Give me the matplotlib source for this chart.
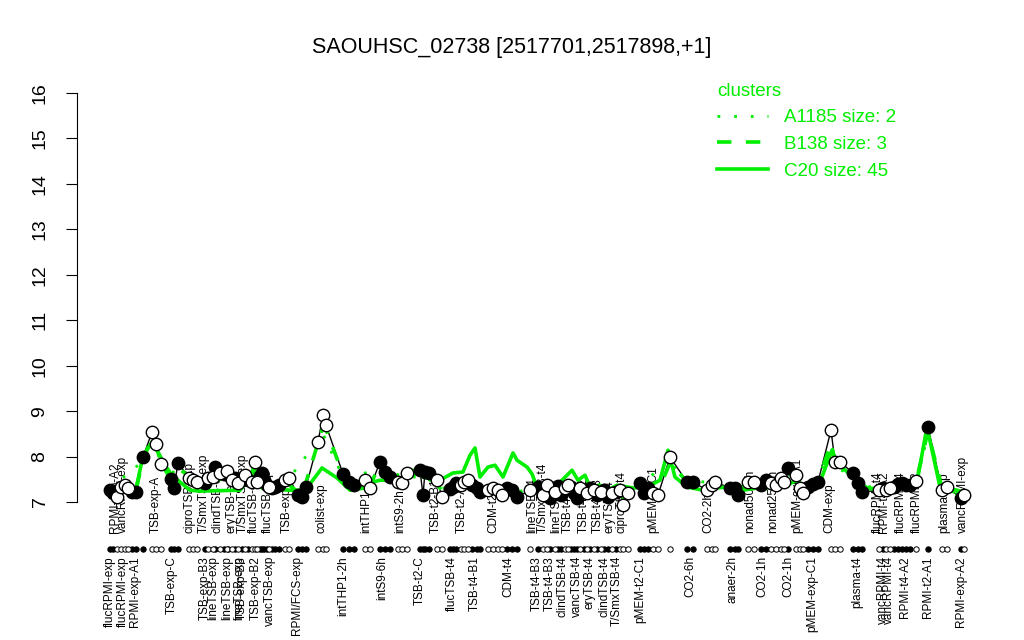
import numpy as np
import matplotlib
matplotlib.use('Agg')
import matplotlib.pyplot as plt
from matplotlib.lines import Line2D

plt.rcParams['font.family'] = ['Liberation Sans', 'DejaVu Sans']

title = 'SAOUHSC_02738 [2517701,2517898,+1]'
green = '#00ee00'

# sample positions (left to right), expression values, filled (1) / open (0)
pos = [2.0, 2.6, 3.4, 4.2, 5.0, 5.6, 6.4, 7.2, 8.6,
       10.4, 11.2, 12.2,
       14.2, 14.8, 15.6,
       17.8, 18.6, 19.4,
       21.0, 21.6, 22.6, 23.0, 24.0, 24.8, 25.4, 25.6, 26.4, 27.0, 27.6, 28.4,
       29.0, 29.6, 30.4, 31.0, 31.4, 32.0, 32.4, 32.8, 33.4, 33.8, 34.4, 35.0, 35.8,
       37.0, 37.8,
       39.6, 40.4, 41.2,
       43.6, 44.6, 45.2,
       48.6, 49.8, 50.8,
       53.0, 54.0,
       56.0, 57.0, 58.0,
       59.6, 60.4, 61.4,
       64.0, 64.6, 65.0, 65.8,
       67.4, 68.4,
       70.0, 70.6, 71.2,
       72.2, 72.8, 73.6,
       74.4, 75.4, 76.0,
       77.6, 78.6, 79.6, 80.4,
       81.4, 82.4, 83.4,
       86.0,
       87.6, 88.6, 89.4, 90.0, 91.0, 91.6, 92.2, 93.0, 93.6, 94.2, 94.8, 95.4,
       96.0, 96.8, 97.4, 98.0, 98.8, 99.4, 100.2, 100.8, 101.6, 102.4, 103.2,
       104.0, 104.6, 105.6,
       108.0, 108.8, 109.6, 110.6, 111.6,
       114.0,
       117.4, 118.6,
       121.4, 122.4, 123.0,
       126.0, 127.0, 127.6,
       129.6, 130.8,
       132.2, 133.2,
       134.2, 135.2, 136.2, 136.8,
       137.6,
       139.2, 140.0, 140.6,
       141.6, 142.6, 143.6,
       146.2, 147.0, 148.0,
       150.6, 151.6, 152.4,
       155.8, 156.6, 157.2, 158.0, 158.8, 159.6, 160.4, 161.2, 162.0, 163.2,
       165.6,
       168.4, 169.4,
       172.2, 172.8]

expr = [7.26, 7.20, 7.11, 7.33, 7.37, 7.31, 7.22, 7.22, 7.99,
        8.54, 8.28, 7.84,
        7.51, 7.31, 7.86,
        7.53, 7.48, 7.44,
        7.42, 7.53, 7.55, 7.77, 7.64, 7.62, 7.68, 7.59, 7.48, 7.53, 7.42, 7.48,
        7.59, 7.48, 7.44, 7.88, 7.44, 7.57, 7.64, 7.48, 7.37, 7.33, 7.31, 7.33, 7.37,
        7.48, 7.53,
        7.15, 7.11, 7.33,
        8.32, 8.91, 8.69,
        7.62, 7.44, 7.37,
        7.48, 7.31,
        7.88, 7.66, 7.55,
        7.44, 7.42, 7.64,
        7.70, 7.15, 7.66, 7.64,
        7.48, 7.11,
        7.29, 7.33, 7.42,
        7.37, 7.44, 7.48,
        7.37, 7.31, 7.22,
        7.26, 7.31, 7.26, 7.15,
        7.31, 7.26, 7.11,
        7.26,
        7.33, 7.15, 7.37, 7.09, 7.22, 7.35, 7.15, 7.31, 7.37, 7.33, 7.20, 7.09,
        7.31, 7.26, 7.20, 7.31, 7.26, 7.15, 7.22, 7.26, 7.11, 7.20, 7.22,
        7.26, 6.93, 7.20,
        7.42, 7.20, 7.31, 7.20, 7.15,
        7.99,
        7.44, 7.44,
        7.26, 7.37, 7.44,
        7.31, 7.31, 7.15,
        7.44, 7.44,
        7.37, 7.48,
        7.42, 7.37, 7.53, 7.44,
        7.75,
        7.59, 7.31, 7.20,
        7.33, 7.40, 7.44,
        8.58, 7.88, 7.88,
        7.64, 7.42, 7.22,
        7.26, 7.31, 7.26, 7.31, 7.33, 7.40, 7.42, 7.37, 7.37, 7.46,
        8.65,
        7.26, 7.33,
        7.09, 7.15]

filled = [1, 1, 0, 0, 0, 0, 1, 1, 1,
          0, 0, 0,
          1, 1, 1,
          0, 0, 0,
          1, 0, 0, 1, 0, 1, 0, 1, 0, 1, 0, 1,
          0, 1, 0, 0, 0, 1, 1, 1, 1, 0, 1, 1, 1,
          0, 0,
          1, 1, 1,
          0, 0, 0,
          1, 1, 1,
          0, 0,
          1, 1, 1,
          0, 0, 0,
          1, 1, 1, 1,
          0, 0,
          1, 1, 1,
          0, 0, 0,
          1, 1, 1,
          0, 0, 0, 0,
          1, 1, 1,
          0,
          1, 0, 0, 1, 0, 1, 1, 0, 0, 1, 1, 1,
          0, 1, 0, 1, 0, 1, 0, 1, 1, 0, 1,
          0, 0, 0,
          1, 1, 1, 0, 0,
          0,
          1, 1,
          0, 0, 0,
          1, 1, 1,
          0, 0,
          1, 1,
          0, 0, 0, 0,
          1,
          0, 0, 0,
          1, 1, 1,
          0, 0, 0,
          1, 1, 1,
          0, 1, 0, 0, 1, 1, 1, 1, 1, 0,
          1,
          0, 0,
          1, 0]

# cluster profiles
c20_pos = [2.0, 7.2, 8.6, 10.4, 11.6, 13.0, 14.4, 16.0, 18.0, 20.0, 28.0, 30.0,
           30.8, 31.6, 32.4, 38.0, 40.0, 41.4, 44.4, 47.4, 50.0, 53.0, 54.6,
           56.0, 60.0, 62.6, 64.6, 68.0, 70.6, 72.6, 74.0, 75.0, 76.0, 77.6,
           79.0, 80.6, 82.6, 83.4, 85.4, 86.4, 87.6, 90.0, 91.4, 94.4, 95.6,
           97.0, 98.0, 100.0, 101.6, 103.4, 106.6, 109.4, 112.0, 113.6, 115.0,
           117.4, 120.6, 123.4, 125.4, 128.6, 131.4, 134.0, 136.6, 139.4,
           140.6, 142.0, 144.0, 146.4, 147.4, 150.6, 153.4, 156.0, 160.0,
           163.4, 165.4, 168.0, 171.4, 173.0]
c20_val = [7.26, 7.29, 8.01, 8.32, 8.10, 7.81, 7.59, 7.44, 7.26, 7.24, 7.26, 7.53,
           7.79, 7.42, 7.31, 7.26, 7.26, 7.31, 7.75, 7.53, 7.26, 7.31, 7.44,
           7.48, 7.48, 7.70, 7.55, 7.48, 7.64, 7.66, 8.03, 8.19, 7.55, 7.77,
           7.81, 7.55, 8.08, 7.92, 7.77, 7.62, 7.26, 7.31, 7.37, 7.70, 7.48,
           7.59, 7.33, 7.37, 7.26, 7.37, 7.31, 7.33, 7.48, 8.14, 7.55,
           7.33, 7.26, 7.31, 7.33, 7.26, 7.31, 7.31, 7.33, 7.48,
           7.31, 7.26, 7.44, 8.14, 7.86, 7.55, 7.31, 7.26, 7.37,
           7.44, 8.65, 7.33, 7.26, 7.20]

b138_pos = [2.0, 7.2, 8.6, 10.4, 11.2, 12.2, 14.2, 15.6, 18.6, 23.0, 27.0, 31.0,
            33.4, 37.0, 40.4, 43.6, 44.6, 45.2, 48.6, 50.8, 54.0, 56.0, 58.0,
            61.4, 64.0, 65.8, 68.4, 71.2, 73.6, 76.0, 79.6, 83.4, 86.0, 90.0,
            95.0, 100.0, 104.6, 108.0, 111.6, 114.0, 117.4, 121.4, 123.0, 127.0,
            130.8, 133.2, 137.6, 140.6, 143.6, 146.2, 147.0, 148.0, 150.6, 152.4,
            156.6, 160.4, 163.2, 165.6, 168.4, 172.2]
b138_val = [7.25, 7.25, 7.95, 8.40, 8.25, 7.85, 7.50, 7.75, 7.50, 7.65, 7.55, 7.70,
            7.40, 7.45, 7.15, 8.30, 8.65, 8.60, 7.60, 7.40, 7.35, 7.85, 7.60,
            7.55, 7.65, 7.60, 7.25, 7.40, 7.45, 7.30, 7.30, 7.20, 7.30, 7.20,
            7.25, 7.25, 7.10, 7.40, 7.25, 7.85, 7.45, 7.30, 7.42, 7.30,
            7.40, 7.45, 7.65, 7.30, 7.45, 8.30, 7.90, 7.85, 7.60, 7.30,
            7.30, 7.40, 7.45, 8.55, 7.30, 7.15]

a1185_pos = [2.0, 8.6, 10.4, 12.2, 15.6, 18.6, 31.0, 37.0, 44.6, 48.6, 56.0, 61.4,
             65.0, 68.4, 73.6, 80.4, 86.0, 95.0, 104.6, 108.0, 114.0, 115.5, 117.4,
             123.0, 127.0, 133.2, 137.6, 141.6, 146.2, 147.0, 150.6, 152.4, 158.0,
             163.2, 165.6, 168.4, 172.8]
a1185_val = [7.30, 7.90, 8.30, 7.80, 7.60, 7.40, 7.60, 7.40, 8.50, 7.55, 7.70, 7.55,
             7.55, 7.30, 7.40, 7.30, 7.25, 7.30, 7.15, 7.35, 7.95, 7.65, 7.50,
             7.40, 7.30, 7.40, 7.55, 7.35, 8.00, 7.75, 7.60, 7.35, 7.30,
             7.40, 8.50, 7.30, 7.15]

top_pos = [3.0, 4.6, 11.2, 18.0, 20.8, 23.6, 26.2, 28.6, 30.8, 33.6, 37.4, 44.4,
           53.2, 60.0, 67.2, 72.4, 78.6, 86.4, 88.6, 91.2, 93.6, 96.8, 99.6,
           102.0, 104.4, 110.6, 121.6, 130.0, 134.6, 139.4, 145.8, 155.6, 156.8,
           160.2, 163.4, 168.8, 172.6]
top_lab = ['RPMI-exp-A2', 'vancRPMI-exp', 'TSB-exp-A', 'ciproTSB-exp',
           'T/SmxTSB-exp', 'clindTSB-exp', 'eryTSB-exp', 'T/SmxTSB-exp',
           'flucTSB-exp', 'flucTSB-exp', 'TSB-exp', 'colist-exp', 'intTHP1-1h',
           'intS9-2h', 'TSB-t2-B1', 'TSB-t2-A1', 'CDM-t2', 'lineTSB-t4',
           'T/SmxTSB-t4', 'lineTSB-t4', 'TSB-t4-B2', 'TSB-t4-C2', 'TSB-t4-B3',
           'eryTSB-t4', 'ciproTSB-t4', 'pMEM-t2-C1', 'CO2-2h', 'nonad50-1h',
           'nonad25-1h', 'pMEM-exp-A1', 'CDM-exp', 'flucRPMI-t4', 'RPMI-t4-A2',
           'flucRPMI-t4', 'flucRPMI-t2', 'plasma-exp', 'vancRPMI-exp']

bot_pos = [2.0, 4.6, 7.0, 14.4, 21.0, 22.6, 25.4, 27.8, 28.4, 31.2, 34.0, 39.4,
           48.6, 56.4, 64.0, 70.4, 75.0, 81.6, 87.4, 90.0, 92.6, 95.4, 98.0,
           100.8, 103.4, 108.0, 118.0, 126.6, 132.4, 137.6, 142.4, 151.4, 156.6,
           157.8, 161.0, 165.6, 172.2]
bot_lab = ['flucRPMI-exp', 'flucRPMI-exp', 'RPMI-exp-A1', 'TSB-exp-C',
           'TSB-exp-B3', 'lineTSB-exp', 'lineTSB-exp', 'lineTSB-exp',
           'TSB-exp-B3', 'TSB-exp-B2', 'vancTSB-exp', 'RPMI/FCS-exp',
           'intTHP1-2h', 'intS9-6h', 'TSB-t2-C', 'flucTSB-t4', 'TSB-t4-B1',
           'CDM-t4', 'TSB-t4-B3', 'TSB-t4-B3', 'clindTSB-t4', 'vancTSB-t4',
           'eryTSB-t4', 'clindTSB-t4', 'T/SmxTSB-t4', 'pMEM-t2-C1', 'CO2-6h',
           'anaer-2h', 'CO2-1h', 'CO2-1h', 'pMEM-exp-C1', 'plasma-t4',
           'vancRPMI-t4', 'vancRPMI-t4', 'RPMI-t4-A2', 'RPMI-t2-A1', 'RPMI-exp-A2']

pos = np.array(pos)
expr = np.array(expr)
filled = np.array(filled, dtype=bool)

fig = plt.figure(figsize=(10.24, 6.4), dpi=100)
ax = fig.add_axes([77/1024, 80/640, 908/1024, 490/640])
ax.set_xlim(-4.6, 177)
ax.set_ylim(5.724, 16.507)

ax.plot(pos, expr, color='black', lw=1, zorder=2)
ax.plot(c20_pos, c20_val, color=green, lw=2.6, zorder=3)
ax.plot(b138_pos, b138_val, color=green, lw=2.6, ls=(0, (4, 4)), zorder=3)
ax.plot(a1185_pos, a1185_val, color=green, lw=2, ls=(0, (1, 5)), zorder=3)

ax.scatter(pos[filled], expr[filled], s=80, facecolor='black', edgecolor='black', lw=1, zorder=4)
ax.scatter(pos[~filled], expr[~filled], s=80, facecolor='white', edgecolor='black', lw=1, zorder=4)

# sample markers row under the axis
ax.scatter(pos[filled], np.full(filled.sum(), 5.97), s=15, facecolor='black', edgecolor='black', lw=0.7, clip_on=False, zorder=4)
ax.scatter(pos[~filled], np.full((~filled).sum(), 5.97), s=15, facecolor='white', edgecolor='black', lw=0.7, clip_on=False, zorder=4)

for x, t in zip(top_pos, top_lab):
    ax.text(x, 6.32, t, rotation=90, ha='center', va='bottom', fontsize=8.5, zorder=1)
for x, t in zip(bot_pos, bot_lab):
    ax.text(x, 5.81, t, rotation=90, ha='center', va='top', fontsize=8.5, zorder=1)

for s in ['top', 'right', 'bottom']:
    ax.spines[s].set_visible(False)
ax.spines['left'].set_bounds(7, 16)
ax.set_xticks([])
ax.set_yticks(range(7, 17))
ax.tick_params(axis='y', length=8, pad=12.5, labelsize=14, labelrotation=90)
for lbl in ax.get_yticklabels():
    lbl.set_va('center')

fig.text(0.5, 1 - 48/640, title, ha='center', va='center', fontsize=15.5)

handles = [Line2D([], [], color=green, lw=2, ls=(0, (1, 5))),
           Line2D([], [], color=green, lw=2.6, ls=(0, (4, 4))),
           Line2D([], [], color=green, lw=2.6)]
leg = ax.legend(handles, ['A1185 size: 2', 'B138 size: 3', 'C20 size: 45'],
                title='clusters', loc='upper left',
                bbox_to_anchor=(717/1024, 1 - 83/640), bbox_transform=fig.transFigure,
                frameon=False, fontsize=13.5, title_fontsize=13.5, alignment='left',
                handlelength=2.7, handletextpad=0.9, labelspacing=0.5,
                borderpad=0, borderaxespad=0, labelcolor=green)
leg.get_title().set_color(green)

fig.savefig('out.png', dpi=100)
